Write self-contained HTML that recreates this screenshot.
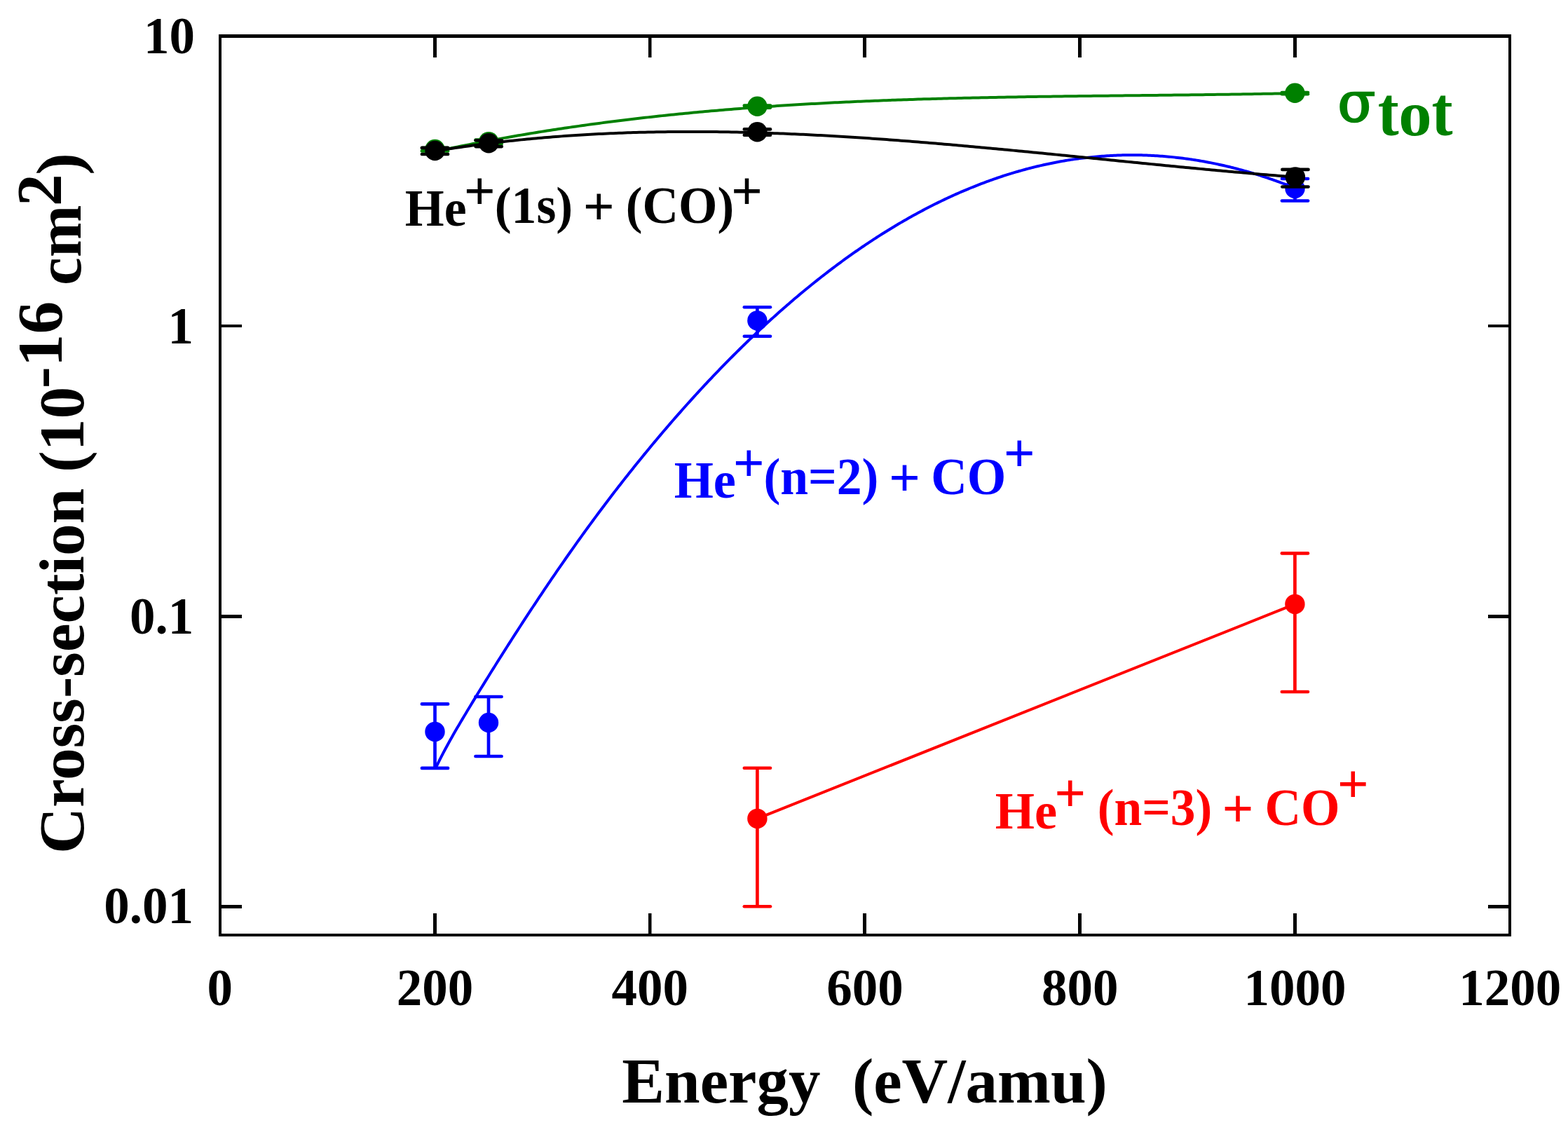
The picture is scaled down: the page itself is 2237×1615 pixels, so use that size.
<!DOCTYPE html>
<html><head><meta charset="utf-8"><title>Cross-section vs Energy</title>
<style>
html,body{margin:0;padding:0;background:#fff;overflow:hidden;}
svg{display:block;}
text{font-family:'Liberation Serif', 'Times New Roman', serif;font-weight:bold;}
</style></head>
<body>
<svg width="2237" height="1615" viewBox="0 0 2237 1615">
<rect width="2237" height="1615" fill="#fff"/>
<rect x="312" y="49" width="1844" height="5" fill="#000"/>
<rect x="312" y="1332" width="1844" height="4" fill="#000"/>
<rect x="312" y="49" width="4" height="1287" fill="#000"/>
<rect x="2152" y="49" width="4" height="1287" fill="#000"/>
<rect x="618" y="1303" width="5" height="29" fill="#000"/>
<rect x="618" y="54" width="5" height="28" fill="#000"/>
<rect x="925" y="1303" width="4.5" height="29" fill="#000"/>
<rect x="925" y="54" width="4.5" height="28" fill="#000"/>
<rect x="1231" y="1303" width="5" height="29" fill="#000"/>
<rect x="1231" y="54" width="5" height="28" fill="#000"/>
<rect x="1538" y="1303" width="5" height="29" fill="#000"/>
<rect x="1538" y="54" width="5" height="28" fill="#000"/>
<rect x="1845" y="1303" width="5" height="29" fill="#000"/>
<rect x="1845" y="54" width="5" height="28" fill="#000"/>
<rect x="316" y="463" width="29" height="4" fill="#000"/>
<rect x="2123" y="463" width="29" height="4" fill="#000"/>
<rect x="316" y="877" width="29" height="5" fill="#000"/>
<rect x="2123" y="877" width="29" height="5" fill="#000"/>
<rect x="316" y="1291" width="29" height="5" fill="#000"/>
<rect x="2123" y="1291" width="29" height="5" fill="#000"/>
<path d="M620.5 216.21L624.6 215.33L628.71 214.46L632.81 213.6L636.91 212.74L641.02 211.88L645.12 211.04L649.22 210.2L653.33 209.36L657.43 208.54L661.53 207.72L665.64 206.9L669.74 206.09L673.84 205.29L677.95 204.5L682.05 203.71L686.15 202.93L690.26 202.15L694.36 201.38L698.46 200.61L702.57 199.86L706.67 199.11L710.77 198.36L714.88 197.62L718.98 196.89L723.08 196.16L727.19 195.44L731.29 194.72L735.39 194.01L739.5 193.31L743.6 192.61L747.7 191.92L751.81 191.23L755.91 190.55L760.01 189.88L764.12 189.21L768.22 188.55L772.32 187.89L776.43 187.24L780.53 186.59L784.63 185.95L788.74 185.32L792.84 184.69L796.94 184.07L801.05 183.45L805.15 182.84L809.25 182.23L813.36 181.63L817.46 181.03L821.56 180.44L825.67 179.86L829.77 179.28L833.87 178.7L837.98 178.14L842.08 177.57L846.18 177.01L850.29 176.46L854.39 175.91L858.49 175.37L862.6 174.83L866.7 174.3L870.8 173.77L874.91 173.25L879.01 172.74L883.11 172.22L887.22 171.72L891.32 171.21L895.42 170.72L899.53 170.23L903.63 169.74L907.73 169.26L911.84 168.78L915.94 168.31L920.04 167.84L924.15 167.38L928.25 166.92L932.35 166.47L936.46 166.02L940.56 165.57L944.66 165.13L948.77 164.7L952.87 164.27L956.97 163.84L961.08 163.42L965.18 163.01L969.28 162.6L973.39 162.19L977.49 161.79L981.59 161.39L985.7 160.99L989.8 160.6L993.9 160.22L998.01 159.84L1002.11 159.46L1006.21 159.09L1010.32 158.72L1014.42 158.36L1018.52 158L1022.63 157.64L1026.73 157.29L1030.83 156.94L1034.94 156.6L1039.04 156.26L1043.14 155.93L1047.25 155.6L1051.35 155.27L1055.45 154.95L1059.56 154.63L1063.66 154.32L1067.76 154L1071.87 153.7L1075.97 153.39L1080.07 153.1L1084.18 152.8L1088.28 152.51L1092.38 152.22L1096.49 151.94L1100.59 151.66L1104.69 151.38L1108.8 151.11L1112.9 150.84L1117 150.57L1121.11 150.31L1125.21 150.05L1129.31 149.79L1133.42 149.54L1137.52 149.29L1141.62 149.05L1145.73 148.81L1149.83 148.57L1153.93 148.34L1158.04 148.1L1162.14 147.88L1166.24 147.65L1170.35 147.43L1174.45 147.21L1178.55 147L1182.66 146.79L1186.76 146.58L1190.86 146.37L1194.97 146.17L1199.07 145.97L1203.17 145.77L1207.28 145.58L1211.38 145.39L1215.48 145.2L1219.59 145.02L1223.69 144.83L1227.79 144.65L1231.9 144.48L1236 144.31L1240.11 144.13L1244.21 143.97L1248.31 143.8L1252.42 143.64L1256.52 143.48L1260.62 143.32L1264.73 143.17L1268.83 143.01L1272.93 142.86L1277.04 142.72L1281.14 142.57L1285.24 142.43L1289.35 142.29L1293.45 142.15L1297.55 142.02L1301.66 141.88L1305.76 141.75L1309.86 141.62L1313.97 141.5L1318.07 141.37L1322.17 141.25L1326.28 141.13L1330.38 141.01L1334.48 140.9L1338.59 140.78L1342.69 140.67L1346.79 140.56L1350.9 140.45L1355 140.35L1359.1 140.24L1363.21 140.14L1367.31 140.04L1371.41 139.94L1375.52 139.85L1379.62 139.75L1383.72 139.66L1387.83 139.57L1391.93 139.48L1396.03 139.39L1400.14 139.3L1404.24 139.22L1408.34 139.13L1412.45 139.05L1416.55 138.97L1420.65 138.89L1424.76 138.82L1428.86 138.74L1432.96 138.66L1437.07 138.59L1441.17 138.52L1445.27 138.45L1449.38 138.38L1453.48 138.31L1457.58 138.24L1461.69 138.18L1465.79 138.11L1469.89 138.05L1474 137.99L1478.1 137.92L1482.2 137.86L1486.31 137.8L1490.41 137.75L1494.51 137.69L1498.62 137.63L1502.72 137.57L1506.82 137.52L1510.93 137.46L1515.03 137.41L1519.13 137.36L1523.24 137.31L1527.34 137.26L1531.44 137.2L1535.55 137.15L1539.65 137.1L1543.75 137.06L1547.86 137.01L1551.96 136.96L1556.06 136.91L1560.17 136.87L1564.27 136.82L1568.37 136.77L1572.48 136.73L1576.58 136.68L1580.68 136.64L1584.79 136.59L1588.89 136.55L1592.99 136.5L1597.1 136.46L1601.2 136.42L1605.3 136.37L1609.41 136.33L1613.51 136.28L1617.61 136.24L1621.72 136.2L1625.82 136.15L1629.92 136.11L1634.03 136.07L1638.13 136.02L1642.23 135.98L1646.34 135.94L1650.44 135.89L1654.54 135.85L1658.65 135.8L1662.75 135.76L1666.85 135.71L1670.96 135.67L1675.06 135.62L1679.16 135.57L1683.27 135.53L1687.37 135.48L1691.47 135.43L1695.58 135.38L1699.68 135.34L1703.78 135.29L1707.89 135.24L1711.99 135.19L1716.09 135.14L1720.2 135.08L1724.3 135.03L1728.4 134.98L1732.51 134.92L1736.61 134.87L1740.71 134.81L1744.82 134.76L1748.92 134.7L1753.02 134.64L1757.13 134.58L1761.23 134.52L1765.33 134.46L1769.44 134.4L1773.54 134.33L1777.64 134.27L1781.75 134.21L1785.85 134.14L1789.95 134.07L1794.06 134L1798.16 133.93L1802.26 133.86L1806.37 133.79L1810.47 133.71L1814.57 133.64L1818.68 133.56L1822.78 133.48L1826.88 133.4L1830.99 133.32L1835.09 133.24L1839.19 133.15L1843.3 133.07L1847.4 132.98" fill="none" stroke="#008000" stroke-width="4.0" stroke-linejoin="round" stroke-linecap="round"/>
<path d="M620.5 211V215.4" stroke="#008000" stroke-width="4.7" fill="none"/>
<path d="M601.9 211H639.1" stroke="#008000" stroke-width="4.6" stroke-linecap="round" fill="none"/>
<path d="M601.9 215.4H639.1" stroke="#008000" stroke-width="4.6" stroke-linecap="round" fill="none"/>
<circle cx="620.5" cy="213" r="14.2" fill="#008000"/>
<path d="M697.2 199.5V205" stroke="#008000" stroke-width="4.7" fill="none"/>
<path d="M678.6 199.5H715.8" stroke="#008000" stroke-width="4.6" stroke-linecap="round" fill="none"/>
<path d="M678.6 205H715.8" stroke="#008000" stroke-width="4.6" stroke-linecap="round" fill="none"/>
<circle cx="697.2" cy="202.1" r="14.2" fill="#008000"/>
<path d="M1080.4 150.5V153.6" stroke="#008000" stroke-width="4.7" fill="none"/>
<path d="M1061.8 150.5H1099" stroke="#008000" stroke-width="4.6" stroke-linecap="round" fill="none"/>
<path d="M1061.8 153.6H1099" stroke="#008000" stroke-width="4.6" stroke-linecap="round" fill="none"/>
<circle cx="1080.4" cy="151.7" r="14.2" fill="#008000"/>
<path d="M1847.4 132V134.3" stroke="#008000" stroke-width="4.7" fill="none"/>
<path d="M1828.8 132H1866" stroke="#008000" stroke-width="4.6" stroke-linecap="round" fill="none"/>
<path d="M1828.8 134.3H1866" stroke="#008000" stroke-width="4.6" stroke-linecap="round" fill="none"/>
<circle cx="1847.4" cy="132.8" r="14.2" fill="#008000"/>
<path d="M622.6 1093.6L625.05 1088.6L627.51 1083.7L629.96 1078.89L632.41 1074.17L634.87 1069.53L637.32 1064.96L639.78 1060.46L642.23 1056.03L644.68 1051.66L647.14 1047.34L649.59 1043.07L652.04 1038.85L654.5 1034.66L656.95 1030.5L659.41 1026.37L661.86 1022.26L664.31 1018.17L666.77 1014.09L669.22 1010.02L671.67 1005.96L674.13 1001.91L676.58 997.87L679.04 993.84L681.49 989.82L683.94 985.82L686.4 981.82L688.85 977.83L691.3 973.86L693.76 969.89L696.21 965.93L698.66 961.99L701.12 958.05L703.57 954.12L706.03 950.2L708.48 946.29L710.93 942.39L713.39 938.5L715.84 934.62L718.29 930.74L720.75 926.88L723.2 923.02L725.66 919.17L728.11 915.33L730.56 911.5L733.02 907.68L735.47 903.87L737.92 900.06L740.38 896.27L742.83 892.48L745.29 888.71L747.74 884.94L750.19 881.18L752.65 877.43L755.1 873.69L757.55 869.96L760.01 866.24L762.46 862.53L764.92 858.83L767.37 855.14L769.82 851.46L772.28 847.79L774.73 844.13L777.18 840.48L779.64 836.84L782.09 833.21L784.54 829.6L787 825.99L789.45 822.39L791.91 818.8L794.36 815.23L796.81 811.66L799.27 808.11L801.72 804.56L804.17 801.03L806.63 797.51L809.08 794L811.54 790.5L813.99 787.01L816.44 783.54L818.9 780.07L821.35 776.62L823.8 773.18L826.26 769.75L828.71 766.33L831.17 762.92L833.62 759.53L836.07 756.15L838.53 752.77L840.98 749.42L843.43 746.07L845.89 742.73L848.34 739.41L850.79 736.09L853.25 732.79L855.7 729.5L858.16 726.22L860.61 722.95L863.06 719.7L865.52 716.45L867.97 713.22L870.42 710L872.88 706.79L875.33 703.59L877.79 700.4L880.24 697.22L882.69 694.06L885.15 690.9L887.6 687.76L890.05 684.63L892.51 681.51L894.96 678.39L897.42 675.3L899.87 672.21L902.32 669.13L904.78 666.06L907.23 663.01L909.68 659.96L912.14 656.93L914.59 653.91L917.04 650.89L919.5 647.89L921.95 644.9L924.41 641.92L926.86 638.95L929.31 635.99L931.77 633.05L934.22 630.11L936.67 627.18L939.13 624.27L941.58 621.36L944.04 618.47L946.49 615.58L948.94 612.71L951.4 609.84L953.85 606.99L956.3 604.15L958.76 601.31L961.21 598.49L963.67 595.68L966.12 592.88L968.57 590.09L971.03 587.31L973.48 584.54L975.93 581.78L978.39 579.03L980.84 576.29L983.29 573.56L985.75 570.84L988.2 568.14L990.66 565.44L993.11 562.75L995.56 560.08L998.02 557.41L1000.47 554.75L1002.92 552.11L1005.38 549.47L1007.83 546.85L1010.29 544.24L1012.74 541.63L1015.19 539.04L1017.65 536.46L1020.1 533.88L1022.55 531.32L1025.01 528.77L1027.46 526.23L1029.92 523.7L1032.37 521.18L1034.82 518.67L1037.28 516.17L1039.73 513.68L1042.18 511.2L1044.64 508.73L1047.09 506.28L1049.55 503.83L1052 501.39L1054.45 498.97L1056.91 496.55L1059.36 494.15L1061.81 491.75L1064.27 489.37L1066.72 486.99L1069.17 484.63L1071.63 482.27L1074.08 479.93L1076.54 477.6L1078.99 475.28L1081.44 472.97L1083.9 470.66L1086.35 468.37L1088.8 466.09L1091.26 463.82L1093.71 461.56L1096.17 459.32L1098.62 457.08L1101.07 454.85L1103.53 452.63L1105.98 450.42L1108.43 448.23L1110.89 446.04L1113.34 443.87L1115.8 441.7L1118.25 439.55L1120.7 437.4L1123.16 435.27L1125.61 433.14L1128.06 431.03L1130.52 428.93L1132.97 426.84L1135.42 424.76L1137.88 422.68L1140.33 420.62L1142.79 418.57L1145.24 416.53L1147.69 414.51L1150.15 412.49L1152.6 410.48L1155.05 408.48L1157.51 406.49L1159.96 404.52L1162.42 402.55L1164.87 400.59L1167.32 398.65L1169.78 396.71L1172.23 394.79L1174.68 392.88L1177.14 390.97L1179.59 389.08L1182.05 387.2L1184.5 385.32L1186.95 383.46L1189.41 381.61L1191.86 379.77L1194.31 377.94L1196.77 376.12L1199.22 374.31L1201.67 372.51L1204.13 370.73L1206.58 368.95L1209.04 367.18L1211.49 365.43L1213.94 363.68L1216.4 361.95L1218.85 360.22L1221.3 358.51L1223.76 356.8L1226.21 355.11L1228.67 353.43L1231.12 351.75L1233.57 350.09L1236.03 348.44L1238.48 346.8L1240.93 345.17L1243.39 343.55L1245.84 341.94L1248.3 340.35L1250.75 338.76L1253.2 337.18L1255.66 335.61L1258.11 334.06L1260.56 332.51L1263.02 330.98L1265.47 329.45L1267.93 327.94L1270.38 326.44L1272.83 324.94L1275.29 323.46L1277.74 321.99L1280.19 320.53L1282.65 319.08L1285.1 317.64L1287.55 316.21L1290.01 314.79L1292.46 313.39L1294.92 311.99L1297.37 310.6L1299.82 309.23L1302.28 307.86L1304.73 306.51L1307.18 305.16L1309.64 303.83L1312.09 302.5L1314.55 301.19L1317 299.89L1319.45 298.6L1321.91 297.32L1324.36 296.05L1326.81 294.79L1329.27 293.54L1331.72 292.3L1334.18 291.08L1336.63 289.86L1339.08 288.65L1341.54 287.46L1343.99 286.27L1346.44 285.1L1348.9 283.93L1351.35 282.78L1353.8 281.64L1356.26 280.51L1358.71 279.39L1361.17 278.28L1363.62 277.18L1366.07 276.09L1368.53 275.01L1370.98 273.94L1373.43 272.89L1375.89 271.84L1378.34 270.8L1380.8 269.78L1383.25 268.76L1385.7 267.76L1388.16 266.77L1390.61 265.79L1393.06 264.81L1395.52 263.85L1397.97 262.9L1400.43 261.96L1402.88 261.03L1405.33 260.12L1407.79 259.21L1410.24 258.31L1412.69 257.43L1415.15 256.55L1417.6 255.69L1420.05 254.83L1422.51 253.99L1424.96 253.16L1427.42 252.33L1429.87 251.52L1432.32 250.72L1434.78 249.93L1437.23 249.16L1439.68 248.39L1442.14 247.63L1444.59 246.88L1447.05 246.15L1449.5 245.42L1451.95 244.71L1454.41 244L1456.86 243.31L1459.31 242.63L1461.77 241.96L1464.22 241.3L1466.68 240.65L1469.13 240.01L1471.58 239.38L1474.04 238.76L1476.49 238.15L1478.94 237.56L1481.4 236.97L1483.85 236.4L1486.31 235.83L1488.76 235.28L1491.21 234.74L1493.67 234.2L1496.12 233.68L1498.57 233.17L1501.03 232.67L1503.48 232.18L1505.93 231.7L1508.39 231.24L1510.84 230.78L1513.3 230.33L1515.75 229.9L1518.2 229.47L1520.66 229.06L1523.11 228.65L1525.56 228.26L1528.02 227.88L1530.47 227.51L1532.93 227.14L1535.38 226.79L1537.83 226.45L1540.29 226.12L1542.74 225.81L1545.19 225.5L1547.65 225.2L1550.1 224.92L1552.56 224.64L1555.01 224.37L1557.46 224.12L1559.92 223.88L1562.37 223.64L1564.82 223.42L1567.28 223.21L1569.73 223.01L1572.18 222.82L1574.64 222.64L1577.09 222.47L1579.55 222.31L1582 222.16L1584.45 222.02L1586.91 221.9L1589.36 221.78L1591.81 221.67L1594.27 221.58L1596.72 221.49L1599.18 221.42L1601.63 221.36L1604.08 221.3L1606.54 221.26L1608.99 221.23L1611.44 221.21L1613.9 221.2L1616.35 221.2L1618.81 221.21L1621.26 221.23L1623.71 221.27L1626.17 221.31L1628.62 221.36L1631.07 221.43L1633.53 221.5L1635.98 221.58L1638.43 221.68L1640.89 221.79L1643.34 221.9L1645.8 222.03L1648.25 222.17L1650.7 222.32L1653.16 222.48L1655.61 222.65L1658.06 222.83L1660.52 223.02L1662.97 223.22L1665.43 223.43L1667.88 223.65L1670.33 223.88L1672.79 224.13L1675.24 224.38L1677.69 224.65L1680.15 224.92L1682.6 225.21L1685.06 225.5L1687.51 225.81L1689.96 226.12L1692.42 226.45L1694.87 226.79L1697.32 227.14L1699.78 227.5L1702.23 227.87L1704.68 228.25L1707.14 228.64L1709.59 229.04L1712.05 229.45L1714.5 229.87L1716.95 230.3L1719.41 230.75L1721.86 231.2L1724.31 231.67L1726.77 232.14L1729.22 232.62L1731.68 233.12L1734.13 233.63L1736.58 234.14L1739.04 234.67L1741.49 235.21L1743.94 235.75L1746.4 236.31L1748.85 236.88L1751.31 237.46L1753.76 238.05L1756.21 238.65L1758.67 239.26L1761.12 239.88L1763.57 240.51L1766.03 241.15L1768.48 241.81L1770.94 242.47L1773.39 243.14L1775.84 243.83L1778.3 244.52L1780.75 245.22L1783.2 245.94L1785.66 246.66L1788.11 247.4L1790.56 248.15L1793.02 248.9L1795.47 249.67L1797.93 250.45L1800.38 251.23L1802.83 252.03L1805.29 252.84L1807.74 253.66L1810.19 254.49L1812.65 255.33L1815.1 256.18L1817.56 257.04L1820.01 257.91L1822.46 258.79L1824.92 259.68L1827.37 260.59L1829.82 261.5L1832.28 262.42L1834.73 263.36L1837.19 264.3L1839.64 265.25L1842.09 266.22L1844.55 267.19L1847 268.18" fill="none" stroke="#0000ff" stroke-width="4.0" stroke-linejoin="round" stroke-linecap="round"/>
<path d="M620.5 1004.4V1095.9" stroke="#0000ff" stroke-width="4.7" fill="none"/>
<path d="M601.9 1004.4H639.1" stroke="#0000ff" stroke-width="4.6" stroke-linecap="round" fill="none"/>
<path d="M601.9 1095.9H639.1" stroke="#0000ff" stroke-width="4.6" stroke-linecap="round" fill="none"/>
<circle cx="620.5" cy="1043.9" r="14.2" fill="#0000ff"/>
<path d="M697 994V1079" stroke="#0000ff" stroke-width="4.7" fill="none"/>
<path d="M678.4 994H715.6" stroke="#0000ff" stroke-width="4.6" stroke-linecap="round" fill="none"/>
<path d="M678.4 1079H715.6" stroke="#0000ff" stroke-width="4.6" stroke-linecap="round" fill="none"/>
<circle cx="697" cy="1031" r="14.2" fill="#0000ff"/>
<path d="M1080.4 438.3V479.8" stroke="#0000ff" stroke-width="4.7" fill="none"/>
<path d="M1061.8 438.3H1099" stroke="#0000ff" stroke-width="4.6" stroke-linecap="round" fill="none"/>
<path d="M1061.8 479.8H1099" stroke="#0000ff" stroke-width="4.6" stroke-linecap="round" fill="none"/>
<circle cx="1080.4" cy="457.4" r="14.2" fill="#0000ff"/>
<path d="M1847.5 255V286.5" stroke="#0000ff" stroke-width="4.7" fill="none"/>
<path d="M1828.9 255H1866.1" stroke="#0000ff" stroke-width="4.6" stroke-linecap="round" fill="none"/>
<path d="M1828.9 286.5H1866.1" stroke="#0000ff" stroke-width="4.6" stroke-linecap="round" fill="none"/>
<circle cx="1847.5" cy="269" r="14.2" fill="#0000ff"/>
<path d="M1080.4 1167.9L1847.4 861.9" stroke="#ff0000" stroke-width="4.0" fill="none"/>
<path d="M1080.4 1095.8V1293.2" stroke="#ff0000" stroke-width="4.7" fill="none"/>
<path d="M1061.8 1095.8H1099" stroke="#ff0000" stroke-width="4.6" stroke-linecap="round" fill="none"/>
<path d="M1061.8 1293.2H1099" stroke="#ff0000" stroke-width="4.6" stroke-linecap="round" fill="none"/>
<circle cx="1080.4" cy="1167.9" r="14.2" fill="#ff0000"/>
<path d="M1847.4 789.4V987" stroke="#ff0000" stroke-width="4.7" fill="none"/>
<path d="M1828.8 789.4H1866" stroke="#ff0000" stroke-width="4.6" stroke-linecap="round" fill="none"/>
<path d="M1828.8 987H1866" stroke="#ff0000" stroke-width="4.6" stroke-linecap="round" fill="none"/>
<circle cx="1847.4" cy="861.9" r="14.2" fill="#ff0000"/>
<path d="M620.5 215.61L624.61 214.94L628.71 214.28L632.82 213.62L636.92 212.98L641.03 212.34L645.13 211.72L649.24 211.1L653.34 210.5L657.45 209.9L661.55 209.31L665.66 208.73L669.76 208.16L673.87 207.6L677.97 207.04L682.08 206.5L686.18 205.96L690.29 205.44L694.39 204.92L698.5 204.41L702.6 203.91L706.71 203.42L710.81 202.93L714.92 202.46L719.02 201.99L723.13 201.53L727.23 201.08L731.34 200.64L735.44 200.21L739.55 199.78L743.65 199.37L747.76 198.96L751.86 198.56L755.97 198.16L760.07 197.78L764.18 197.4L768.28 197.04L772.39 196.68L776.49 196.32L780.6 195.98L784.7 195.64L788.81 195.31L792.91 194.99L797.02 194.68L801.12 194.37L805.23 194.08L809.33 193.79L813.44 193.5L817.54 193.23L821.65 192.96L825.75 192.7L829.86 192.44L833.96 192.2L838.07 191.96L842.17 191.73L846.28 191.5L850.38 191.29L854.49 191.08L858.59 190.88L862.7 190.68L866.8 190.49L870.91 190.31L875.01 190.13L879.12 189.97L883.22 189.81L887.33 189.65L891.43 189.5L895.54 189.36L899.64 189.23L903.75 189.1L907.85 188.98L911.96 188.87L916.06 188.76L920.17 188.66L924.27 188.56L928.38 188.47L932.48 188.39L936.59 188.32L940.69 188.25L944.8 188.18L948.9 188.13L953.01 188.07L957.11 188.03L961.22 187.99L965.32 187.96L969.43 187.93L973.53 187.91L977.64 187.9L981.74 187.89L985.85 187.88L989.95 187.89L994.06 187.89L998.16 187.91L1002.27 187.93L1006.37 187.95L1010.48 187.99L1014.58 188.02L1018.69 188.06L1022.79 188.11L1026.9 188.16L1031 188.22L1035.11 188.29L1039.21 188.35L1043.32 188.43L1047.42 188.51L1051.53 188.59L1055.63 188.68L1059.74 188.78L1063.84 188.88L1067.95 188.98L1072.05 189.09L1076.16 189.21L1080.26 189.33L1084.37 189.45L1088.47 189.58L1092.58 189.71L1096.68 189.85L1100.79 190L1104.89 190.14L1109 190.3L1113.1 190.45L1117.21 190.62L1121.31 190.78L1125.42 190.95L1129.52 191.13L1133.63 191.31L1137.73 191.49L1141.84 191.68L1145.94 191.87L1150.05 192.07L1154.15 192.27L1158.26 192.47L1162.36 192.68L1166.47 192.9L1170.57 193.11L1174.68 193.33L1178.78 193.56L1182.89 193.79L1186.99 194.02L1191.1 194.26L1195.2 194.5L1199.31 194.74L1203.41 194.99L1207.52 195.24L1211.62 195.49L1215.73 195.75L1219.83 196.01L1223.94 196.28L1228.04 196.55L1232.15 196.82L1236.25 197.09L1240.36 197.37L1244.46 197.66L1248.57 197.94L1252.67 198.23L1256.78 198.52L1260.88 198.81L1264.99 199.11L1269.09 199.41L1273.2 199.72L1277.3 200.02L1281.41 200.33L1285.51 200.65L1289.62 200.96L1293.72 201.28L1297.83 201.6L1301.93 201.92L1306.04 202.25L1310.14 202.58L1314.25 202.91L1318.35 203.24L1322.46 203.58L1326.56 203.92L1330.67 204.26L1334.77 204.6L1338.88 204.95L1342.98 205.29L1347.09 205.65L1351.19 206L1355.3 206.35L1359.4 206.71L1363.51 207.07L1367.61 207.43L1371.72 207.79L1375.82 208.16L1379.93 208.52L1384.03 208.89L1388.14 209.26L1392.24 209.64L1396.35 210.01L1400.45 210.39L1404.56 210.76L1408.66 211.14L1412.77 211.52L1416.87 211.9L1420.98 212.29L1425.08 212.67L1429.19 213.06L1433.29 213.45L1437.4 213.84L1441.5 214.23L1445.61 214.62L1449.71 215.01L1453.82 215.41L1457.92 215.8L1462.03 216.2L1466.13 216.6L1470.24 217L1474.34 217.4L1478.45 217.8L1482.55 218.2L1486.66 218.6L1490.76 219L1494.87 219.41L1498.97 219.81L1503.08 220.22L1507.18 220.63L1511.29 221.03L1515.39 221.44L1519.5 221.85L1523.6 222.26L1527.71 222.66L1531.81 223.07L1535.92 223.48L1540.02 223.89L1544.13 224.3L1548.23 224.71L1552.34 225.13L1556.44 225.54L1560.55 225.95L1564.65 226.36L1568.76 226.77L1572.86 227.18L1576.97 227.59L1581.07 228L1585.18 228.41L1589.28 228.82L1593.39 229.24L1597.49 229.65L1601.6 230.06L1605.7 230.47L1609.81 230.88L1613.91 231.28L1618.02 231.69L1622.12 232.1L1626.23 232.51L1630.33 232.92L1634.44 233.32L1638.54 233.73L1642.65 234.13L1646.75 234.54L1650.86 234.94L1654.96 235.34L1659.07 235.75L1663.17 236.15L1667.28 236.55L1671.38 236.95L1675.49 237.34L1679.59 237.74L1683.7 238.14L1687.8 238.53L1691.91 238.93L1696.01 239.32L1700.12 239.71L1704.22 240.1L1708.33 240.49L1712.43 240.88L1716.54 241.26L1720.64 241.65L1724.75 242.03L1728.85 242.41L1732.96 242.79L1737.06 243.17L1741.17 243.54L1745.27 243.92L1749.38 244.29L1753.48 244.66L1757.59 245.03L1761.69 245.4L1765.8 245.77L1769.9 246.13L1774.01 246.49L1778.11 246.85L1782.22 247.21L1786.32 247.57L1790.43 247.92L1794.53 248.27L1798.64 248.62L1802.74 248.97L1806.85 249.31L1810.95 249.65L1815.06 249.99L1819.16 250.33L1823.27 250.66L1827.37 251L1831.48 251.33L1835.58 251.65L1839.69 251.98L1843.79 252.3L1847.9 252.62" fill="none" stroke="#000000" stroke-width="4.0" stroke-linejoin="round" stroke-linecap="round"/>
<path d="M620.5 210.9V220" stroke="#000000" stroke-width="4.7" fill="none"/>
<path d="M601.9 210.9H639.1" stroke="#000000" stroke-width="4.6" stroke-linecap="round" fill="none"/>
<path d="M601.9 220H639.1" stroke="#000000" stroke-width="4.6" stroke-linecap="round" fill="none"/>
<circle cx="620.5" cy="215" r="14.2" fill="#000000"/>
<path d="M697.2 200.3V209.1" stroke="#000000" stroke-width="4.7" fill="none"/>
<path d="M678.6 200.3H715.8" stroke="#000000" stroke-width="4.6" stroke-linecap="round" fill="none"/>
<path d="M678.6 209.1H715.8" stroke="#000000" stroke-width="4.6" stroke-linecap="round" fill="none"/>
<circle cx="697.2" cy="204.3" r="14.2" fill="#000000"/>
<path d="M1080.4 184.4V192.8" stroke="#000000" stroke-width="4.7" fill="none"/>
<path d="M1061.8 184.4H1099" stroke="#000000" stroke-width="4.6" stroke-linecap="round" fill="none"/>
<path d="M1061.8 192.8H1099" stroke="#000000" stroke-width="4.6" stroke-linecap="round" fill="none"/>
<circle cx="1080.4" cy="188.2" r="14.2" fill="#000000"/>
<path d="M1847.9 241.9V266.5" stroke="#000000" stroke-width="4.7" fill="none"/>
<path d="M1829.3 241.9H1866.5" stroke="#000000" stroke-width="4.6" stroke-linecap="round" fill="none"/>
<path d="M1829.3 266.5H1866.5" stroke="#000000" stroke-width="4.6" stroke-linecap="round" fill="none"/>
<circle cx="1847.9" cy="252.5" r="14.2" fill="#000000"/>
<text x="278" y="75.8" font-size="73" fill="#000" text-anchor="end">10</text>
<text x="276" y="490.1" font-size="73" fill="#000" text-anchor="end">1</text>
<text x="276.3" y="904.3" font-size="73" fill="#000" text-anchor="end">0.1</text>
<text x="276" y="1317.3" font-size="73" fill="#000" text-anchor="end">0.01</text>
<text x="313.75" y="1433.7" font-size="73" fill="#000" text-anchor="middle">0</text>
<text x="620.5" y="1433.7" font-size="73" fill="#000" text-anchor="middle">200</text>
<text x="927.25" y="1433.7" font-size="73" fill="#000" text-anchor="middle">400</text>
<text x="1234" y="1433.7" font-size="73" fill="#000" text-anchor="middle">600</text>
<text x="1540.75" y="1433.7" font-size="73" fill="#000" text-anchor="middle">800</text>
<text x="1847.5" y="1433.7" font-size="73" fill="#000" text-anchor="middle">1000</text>
<text x="2154.25" y="1433.7" font-size="73" fill="#000" text-anchor="middle">1200</text>
<text x="577.87" y="321.9" font-size="73" fill="#000" textLength="87.79" lengthAdjust="spacingAndGlyphs">He</text>
<text x="661.74" y="298.63" font-size="79" fill="#000000">+</text>
<text x="705.75" y="317.6" font-size="73" fill="#000" textLength="111.5" lengthAdjust="spacingAndGlyphs">(1s)</text>
<text x="831.74" y="320.63" font-size="79" fill="#000000">+</text>
<text x="892.87" y="317.6" font-size="73" fill="#000" textLength="154.26" lengthAdjust="spacingAndGlyphs">(CO)</text>
<text x="1043.04" y="298.73" font-size="79" fill="#000000">+</text>
<text x="961.67" y="710.1" font-size="73" fill="#0000ff" textLength="88.2" lengthAdjust="spacingAndGlyphs">He</text>
<text x="1045.74" y="686.83" font-size="79" fill="#0000ff">+</text>
<text x="1089.46" y="705.2" font-size="73" fill="#0000ff" textLength="163.99" lengthAdjust="spacingAndGlyphs">(n=2)</text>
<text x="1268.04" y="707.63" font-size="79" fill="#0000ff">+</text>
<text x="1328.31" y="705.4" font-size="73" fill="#0000ff" textLength="107.07" lengthAdjust="spacingAndGlyphs">CO</text>
<text x="1431.74" y="672.93" font-size="79" fill="#0000ff">+</text>
<text x="1419.86" y="1181.9" font-size="73" fill="#ff0000" textLength="88.31" lengthAdjust="spacingAndGlyphs">He</text>
<text x="1504.14" y="1157.53" font-size="79" fill="#ff0000">+</text>
<text x="1565.71" y="1176.9" font-size="73" fill="#ff0000" textLength="163.52" lengthAdjust="spacingAndGlyphs">(n=3)</text>
<text x="1743.44" y="1179.53" font-size="79" fill="#ff0000">+</text>
<text x="1804.41" y="1177.2" font-size="73" fill="#ff0000" textLength="107.07" lengthAdjust="spacingAndGlyphs">CO</text>
<text x="1907.74" y="1144.73" font-size="79" fill="#ff0000">+</text>
<text x="1906.22" y="172.6" font-size="78.5" fill="#008000" style="font-weight:bold;font-family:'DejaVu Math TeX Gyre', 'DejaVu Serif', serif">σ</text>
<text transform="translate(0 193.4) scale(1 1.09)" x="1965.65" y="0" font-size="91" fill="#008000" textLength="29.94" lengthAdjust="spacingAndGlyphs">t</text>
<text transform="translate(0 193.4) scale(1 1)" x="1995.29" y="0" font-size="91" fill="#008000" textLength="47.42" lengthAdjust="spacingAndGlyphs">o</text>
<text transform="translate(0 193.4) scale(1 1.09)" x="2042.55" y="0" font-size="91" fill="#008000" textLength="30.05" lengthAdjust="spacingAndGlyphs">t</text>
<text x="887.34" y="1573.2" font-size="91" fill="#000" style="white-space:pre">Energy  (eV/amu)</text>
<g transform="rotate(-90)">
<text x="-1217.95" y="119" font-size="91" fill="#000" textLength="666.13" lengthAdjust="spacingAndGlyphs">Cross-section (10</text>
<text x="-554.32" y="88" font-size="91" fill="#000" textLength="124.35" lengthAdjust="spacingAndGlyphs">-16</text>
<text x="-406.97" y="115" font-size="91" fill="#000" textLength="114.6" lengthAdjust="spacingAndGlyphs">cm</text>
<text x="-294.13" y="86.9" font-size="91" fill="#000" textLength="45.66" lengthAdjust="spacingAndGlyphs">2</text>
<text x="-249.87" y="115" font-size="91" fill="#000" textLength="31.77" lengthAdjust="spacingAndGlyphs">)</text>
</g>
</svg>
</body></html>
